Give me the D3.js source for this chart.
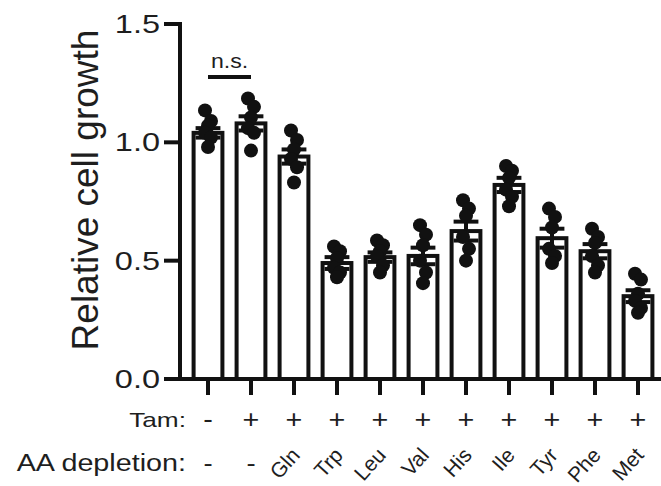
<!DOCTYPE html>
<html lang="en">
<head>
  <meta charset="UTF-8">
  <title>Relative cell growth</title>
  <style>
    body { margin: 0; background: #fff; }
    svg { display: block; font-family: "Liberation Sans", Arial, sans-serif; }
  </style>
</head>
<body>
  <div id="chart"></div>
  <script src="https://d3js.org/d3.v7.min.js"></script>
  <script>
    const width = 661
    const height = 486

    // data
    const tamLabels = ['-', '+', '+', '+', '+', '+', '+', '+', '+', '+', '+']
    const aaLabels = ['-', '-', 'Gln', 'Trp', 'Leu', 'Val', 'His', 'Ile', 'Tyr', 'Phe', 'Met']
    const means = [1.04, 1.08, 0.94, 0.49, 0.515, 0.52, 0.625, 0.82, 0.595, 0.54, 0.35]
    const sems = [0.02, 0.03, 0.03, 0.025, 0.02, 0.035, 0.04, 0.03, 0.04, 0.03, 0.025]
    const points = [
      [1.135, 1.09, 1.07, 1.04, 1.02, 0.98],
      [1.185, 1.15, 1.105, 1.06, 1.04, 0.965],
      [1.05, 1.01, 0.97, 0.93, 0.895, 0.83],
      [0.56, 0.54, 0.51, 0.47, 0.45, 0.43],
      [0.585, 0.565, 0.54, 0.52, 0.48, 0.45],
      [0.65, 0.61, 0.565, 0.5, 0.45, 0.405],
      [0.755, 0.72, 0.69, 0.6, 0.55, 0.5],
      [0.9, 0.88, 0.85, 0.8, 0.77, 0.73],
      [0.72, 0.685, 0.64, 0.55, 0.52, 0.49],
      [0.635, 0.6, 0.575, 0.52, 0.48, 0.45],
      [0.445, 0.42, 0.36, 0.33, 0.3, 0.28]
    ]
    const yTicks = [0, 0.5, 1.0, 1.5]

    const ink = '#111'
    const textInk = '#1e1e1e'

    const svg = d3.select('#chart').append('svg')
      .attr('width', width)
      .attr('height', height)

    const x = d3.scaleBand()
      .domain(d3.range(means.length))
      .range([186.5, 659.5])
      .paddingInner(0.33)
      .paddingOuter(0.165)

    const y = d3.scaleLinear()
      .domain([0, 1.5])
      .range([379, 24])

    const cx = i => x(i) + x.bandwidth() / 2
    const sw = 4

    // the lettering in the figure is a little wide, so stretch it sideways
    function wideText(sel, px, py, sx) {
      return sel.attr('transform', `translate(${px}, ${py}) scale(${sx}, 1)`)
    }

    // bars
    svg.selectAll('rect.bar')
      .data(means)
      .enter()
      .append('rect')
      .attr('class', 'bar')
      .attr('x', (d, i) => x(i))
      .attr('y', d => y(d))
      .attr('width', x.bandwidth())
      .attr('height', d => y(0) - y(d))
      .attr('fill', '#fff')
      .attr('stroke', ink)
      .attr('stroke-width', sw)

    // error bars (mean ± SEM)
    const eb = svg.append('g').attr('stroke', ink).attr('stroke-width', sw)
    means.forEach((m, i) => {
      const half = x.bandwidth() / 2 - 2
      eb.append('line')
        .attr('x1', cx(i)).attr('x2', cx(i))
        .attr('y1', y(m - sems[i])).attr('y2', y(m + sems[i]))
      eb.append('line')
        .attr('x1', cx(i) - half).attr('x2', cx(i) + half)
        .attr('y1', y(m - sems[i])).attr('y2', y(m - sems[i]))
      eb.append('line')
        .attr('x1', cx(i) - half).attr('x2', cx(i) + half)
        .attr('y1', y(m + sems[i])).attr('y2', y(m + sems[i]))
    })

    // individual points, nudged sideways a little like a scatter dot plot
    const nudge = [-3, 3, 0, -3, 3, 0]
    const dots = svg.append('g').attr('fill', ink)
    points.forEach((vals, i) => {
      dots.selectAll(null)
        .data(vals)
        .enter()
        .append('circle')
        .attr('cx', (d, j) => cx(i) + nudge[j])
        .attr('cy', d => y(d))
        .attr('r', 7)
    })

    // y axis
    const yAxis = svg.append('g')
    yAxis.append('line')
      .attr('x1', 180).attr('x2', 180)
      .attr('y1', y(1.5) - 2).attr('y2', y(0) + 2)
      .attr('stroke', ink).attr('stroke-width', sw)
    yAxis.selectAll('line.tick')
      .data(yTicks)
      .enter()
      .append('line')
      .attr('class', 'tick')
      .attr('x1', 164).attr('x2', 180)
      .attr('y1', d => y(d)).attr('y2', d => y(d))
      .attr('stroke', ink).attr('stroke-width', sw)
    yAxis.selectAll('text')
      .data(yTicks)
      .enter()
      .append('text')
      .each(function (d) { wideText(d3.select(this), 160, y(d) + 9, 1.3) })
      .attr('text-anchor', 'end')
      .attr('font-size', 25)
      .attr('fill', textInk)
      .text(d => d3.format('.1f')(d))

    svg.append('text')
      .attr('transform', `translate(98, 190) rotate(-90)`)
      .attr('text-anchor', 'middle')
      .attr('font-size', 37)
      .attr('fill', textInk)
      .text('Relative cell growth')

    // x axis
    svg.append('line')
      .attr('x1', 178).attr('x2', 661)
      .attr('y1', y(0)).attr('y2', y(0))
      .attr('stroke', ink).attr('stroke-width', sw)
    svg.selectAll('line.xtick')
      .data(means)
      .enter()
      .append('line')
      .attr('class', 'xtick')
      .attr('x1', (d, i) => cx(i)).attr('x2', (d, i) => cx(i))
      .attr('y1', y(0)).attr('y2', y(0) + 16)
      .attr('stroke', ink).attr('stroke-width', sw)

    // Tam row
    wideText(svg.append('text'), 186, 427, 1.25)
      .attr('text-anchor', 'end')
      .attr('font-size', 21)
      .attr('fill', textInk)
      .text('Tam:')
    svg.selectAll('text.tam')
      .data(tamLabels)
      .enter()
      .append('text')
      .attr('class', 'tam')
      .each(function (d, i) { wideText(d3.select(this), cx(i), 428, 1.15) })
      .attr('text-anchor', 'middle')
      .attr('font-size', 25)
      .attr('fill', textInk)
      .text(d => d)

    // AA depletion row
    wideText(svg.append('text'), 186, 471, 1.25)
      .attr('text-anchor', 'end')
      .attr('font-size', 23)
      .attr('fill', textInk)
      .text('AA depletion:')
    svg.selectAll('text.aa')
      .data(aaLabels)
      .enter()
      .append('text')
      .attr('class', 'aa')
      .attr('font-size', d => d === '-' ? 24 : 21)
      .attr('fill', textInk)
      .attr('text-anchor', d => d === '-' ? 'middle' : 'end')
      .attr('transform', (d, i) => d === '-'
        ? `translate(${cx(i)}, 471) scale(1.15, 1)`
        : `translate(${cx(i) + 7}, 456) rotate(-48)`)
      .text(d => d)

    // n.s. bracket between the first two bars
    svg.append('line')
      .attr('x1', cx(0)).attr('x2', cx(1))
      .attr('y1', 77).attr('y2', 77)
      .attr('stroke', ink).attr('stroke-width', sw)
    wideText(svg.append('text'), (cx(0) + cx(1)) / 2, 68, 1.1)
      .attr('text-anchor', 'middle')
      .attr('font-size', 21)
      .attr('fill', textInk)
      .text('n.s.')
  </script>
</body>
</html>
